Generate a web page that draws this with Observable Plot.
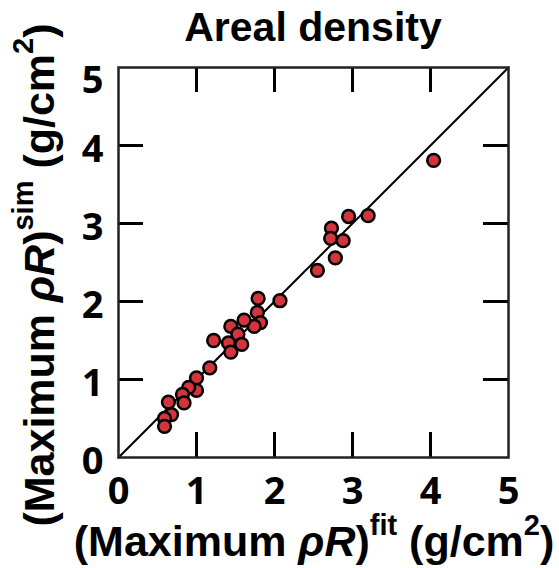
<!DOCTYPE html>
<html>
<head>
<meta charset="utf-8">
<script src="https://cdn.jsdelivr.net/npm/d3@7"></script>
<script src="https://cdn.jsdelivr.net/npm/@observablehq/plot@0.6"></script>
<style>
  html, body { margin: 0; padding: 0; background: #fff; overflow: hidden; }
  #wrap { position: relative; width: 559px; height: 568px; }
  #chart svg { display: block; }
  .anchor { position: absolute; width: 0; height: 0; }
  .lbl {
    position: absolute; left: 0; top: 0; transform-origin: 0 0;
    white-space: nowrap; font-family: 'Liberation Sans', Arial, Helvetica, sans-serif;
    font-weight: bold; color: #000; line-height: 1;
  }
  .sup { position: relative; top: -21px; font-size: 29px; }
  .it { font-style: italic; }
</style>
</head>
<body>
<div id="wrap">
  <div id="chart"></div>
  <div class="anchor" style="left:313px;top:42px"><div class="lbl" id="title" style="font-size:41px;transform:translate(-50%,-34.7px)"></div></div>
  <div class="anchor" style="left:314px;top:556px"><div class="lbl" id="xlab" style="font-size:43px;transform:translate(-50%,-36.4px)"></div></div>
  <div class="anchor" style="left:54px;top:275px"><div class="lbl" id="ylab" style="font-size:43px;transform:rotate(-90deg) translate(-50%,-36.4px)"></div></div>
</div>
<script>
const title = "Areal density";
const fitValues = [4.04, 3.20, 2.95, 2.73, 2.72, 2.88, 2.78, 2.55, 2.07, 1.79,
                   1.78, 1.82, 1.74, 1.61, 1.44, 1.53, 1.41, 1.58, 1.44, 1.22,
                   1.17, 1.00, 1.00, 0.90, 0.82, 0.84, 0.64, 0.68, 0.59, 0.59];
const simValues = [3.81, 3.10, 3.09, 2.94, 2.81, 2.78, 2.56, 2.40, 2.01, 2.04,
                   1.86, 1.73, 1.68, 1.76, 1.68, 1.58, 1.47, 1.45, 1.35, 1.50,
                   1.15, 1.02, 0.86, 0.90, 0.81, 0.70, 0.71, 0.55, 0.50, 0.40];
const axisDomain = [0, 5];
const tickValues = [0, 1, 2, 3, 4, 5];
const innerTicks = [1, 2, 3, 4];

const points = fitValues.map((f, i) => ({fit: f, sim: simValues[i]}));
const diagonal = axisDomain.map(v => ({fit: v, sim: v}));

const W = 559, H = 568;
const mL = 118, mR = 51, mT = 67, mB = 111;
const innerH = H - mT - mB;
const tickLen = 25;
const font = "'Liberation Sans', Arial, Helvetica, sans-serif";
const fmt = d3.format("d");

const plot = Plot.plot({
  width: W,
  height: H,
  marginLeft: mL,
  marginRight: mR,
  marginTop: mT,
  marginBottom: mB,
  style: {fontFamily: font, background: "#fff", color: "#000"},
  x: {domain: axisDomain},
  y: {domain: axisDomain},
  marks: [
    Plot.line(diagonal, {x: "fit", y: "sim", stroke: "#000", strokeWidth: 2}),
    Plot.ruleX(innerTicks, {x: d => d, insetTop: innerH - tickLen, stroke: "#000", strokeWidth: 3}),
    Plot.ruleX(innerTicks, {x: d => d, insetBottom: innerH - tickLen, stroke: "#000", strokeWidth: 3}),
    Plot.ruleY(innerTicks, {y: d => d, insetRight: innerH - tickLen, stroke: "#000", strokeWidth: 3}),
    Plot.ruleY(innerTicks, {y: d => d, insetLeft: innerH - tickLen, stroke: "#000", strokeWidth: 3}),
    Plot.dot(points, {x: "fit", y: "sim", r: 6.4, fill: "#d2363c", stroke: "#000", strokeWidth: 2.5}),
    Plot.frame({stroke: "#222", strokeWidth: 2.5}),
    Plot.axisX(tickValues, {anchor: "bottom", tickSize: 0, tickPadding: 20, fontSize: 38, fontWeight: "bold", tickFormat: fmt, label: null}),
    Plot.axisY(tickValues.filter(d => d < 5), {anchor: "left", tickSize: 0, tickPadding: 15, fontSize: 38, fontWeight: "bold", dy: 4, tickFormat: fmt, label: null}),
    Plot.axisY(tickValues.filter(d => d === 5), {anchor: "left", tickSize: 0, tickPadding: 15, fontSize: 38, fontWeight: "bold", dy: 13, tickFormat: fmt, label: null})
  ]
});

// copy inherited presentation attributes from groups onto each drawn element
const inheritAttrs = ["stroke", "fill", "stroke-width", "stroke-linecap", "font-size", "font-weight", "font-family", "text-anchor"];
plot.querySelectorAll("line, circle, path, rect, text").forEach(el => {
  let p = el.parentNode;
  while (p && p !== plot.parentNode) {
    if (p.getAttribute) {
      for (const a of inheritAttrs) {
        if (!el.hasAttribute(a) && p.hasAttribute(a)) el.setAttribute(a, p.getAttribute(a));
      }
    }
    if (p === plot) break;
    p = p.parentNode;
  }
});

document.getElementById("chart").appendChild(plot);

document.getElementById("title").textContent = title;

function axisLabel(el, sup) {
  const sel = d3.select(el);
  sel.append("span").text("(Maximum ");
  sel.append("span").attr("class", "it").text("\u03C1R");
  sel.append("span").text(")");
  sel.append("span").attr("class", "sup").text(sup);
  sel.append("span").text(" (g/cm");
  sel.append("span").attr("class", "sup").text("2");
  sel.append("span").text(")");
}
axisLabel(document.getElementById("xlab"), "fit");
axisLabel(document.getElementById("ylab"), "sim");
</script>
</body>
</html>
